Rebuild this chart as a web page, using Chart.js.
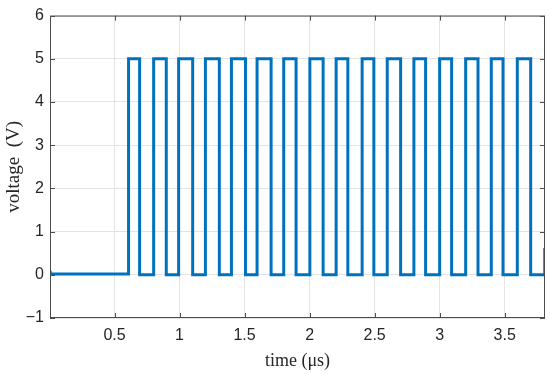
<!DOCTYPE html>
<html>
<head>
<meta charset="utf-8">
<script src="https://cdn.jsdelivr.net/npm/chart.js@4"></script>
<style>
  html, body { margin: 0; padding: 0; background: #fff; }
  #wrap { width: 550px; height: 374px; }
</style>
</head>
<body>
<div id="wrap"><canvas id="pulseChart"></canvas></div>
<script>
// switching instants (µs) and the level (V) the signal takes from each one
const edgeTimes = [0, 0.006, 0.608, 0.693, 0.801, 0.898, 0.993, 1.101, 1.199, 1.306,
    1.399, 1.507, 1.596, 1.704, 1.801, 1.896, 2.002, 2.104, 2.204, 2.294,
    2.404, 2.494, 2.597, 2.700, 2.802, 2.892, 3.000, 3.092, 3.200, 3.295,
    3.397, 3.487, 3.597, 3.700, 3.808];
const edgeLevels = [0.06, 0.02, 5, 0, 5, 0, 5, 0, 5, 0,
    5, 0, 5, 0, 5, 0, 5, 0, 5, 0,
    5, 0, 5, 0, 5, 0, 5, 0, 5, 0,
    5, 0, 5, 0, 0.62];

const xTicks = [0.5, 1, 1.5, 2, 2.5, 3, 3.5];
const yTicks = [-1, 0, 1, 2, 3, 4, 5, 6];

const axisColor = "#4d4d4d";

// matlab-style box: frame on all four sides, ticks pointing inwards
const boxPlugin = {
    id: "box",
    afterDraw(chart) {
        const { ctx, chartArea: a, scales } = chart;
        ctx.save();
        ctx.strokeStyle = axisColor;
        ctx.lineWidth = 1;
        ctx.strokeRect(a.left + 0.5, a.top + 0.5, a.width - 1, a.height - 1);
        ctx.beginPath();
        scales.x.ticks.forEach((t) => {
            const px = Math.round(scales.x.getPixelForValue(t.value)) + 0.5;
            ctx.moveTo(px, a.bottom);
            ctx.lineTo(px, a.bottom - 5);
            ctx.moveTo(px, a.top);
            ctx.lineTo(px, a.top + 5);
        });
        scales.y.ticks.forEach((t) => {
            const py = Math.round(scales.y.getPixelForValue(t.value)) + 0.5;
            ctx.moveTo(a.left, py);
            ctx.lineTo(a.left + 5, py);
            ctx.moveTo(a.right, py);
            ctx.lineTo(a.right - 5, py);
        });
        ctx.stroke();
        ctx.restore();
    },
};

const tickFont = { family: "'Liberation Sans', Arial, sans-serif", size: 16 };
const titleFont = { family: "'Liberation Serif', 'Times New Roman', serif", size: 18 };

new Chart(document.getElementById("pulseChart"), {
    type: "line",
    data: {
        datasets: [
            {
                data: edgeTimes.map((t, i) => ({ x: t, y: edgeLevels[i] })),
                borderColor: "#0072BD",
                borderWidth: 3,
                stepped: "before",
                pointRadius: 0,
                fill: false,
            },
        ],
    },
    options: {
        responsive: true,
        maintainAspectRatio: false,
        animation: false,
        layout: { padding: { top: 10, right: 5, left: 0, bottom: 0 } },
        plugins: { legend: { display: false }, tooltip: { enabled: false } },
        scales: {
            x: {
                type: "linear",
                min: 0.004,
                max: 3.81,
                afterBuildTicks: (s) => {
                    s.ticks = xTicks.map((v) => ({ value: v }));
                },
                afterFit: (s) => {
                    s.height = 56;
                },
                grid: { color: "#e3e3e3", drawTicks: false },
                border: { display: false },
                ticks: {
                    font: tickFont,
                    color: "#262626",
                    padding: 8,
                    maxRotation: 0,
                    callback: (v) => String(v),
                },
                title: {
                    display: true,
                    text: "time (μs)",
                    font: titleFont,
                    color: "#262626",
                    padding: { top: 0, bottom: 2 },
                },
            },
            y: {
                min: -1,
                max: 6,
                afterBuildTicks: (s) => {
                    s.ticks = yTicks.map((v) => ({ value: v }));
                },
                afterFit: (s) => {
                    s.width = 50;
                },
                grid: { color: "#e3e3e3", drawTicks: false },
                border: { display: false },
                ticks: {
                    font: tickFont,
                    color: "#262626",
                    padding: 6,
                    callback: (v) => String(v).replace("-", "\u2212"),
                },
                title: {
                    display: true,
                    text: "voltage  (V)",
                    font: { family: titleFont.family, size: 19 },
                    color: "#262626",
                    padding: { top: 3, bottom: 0 },
                },
            },
        },
    },
    plugins: [boxPlugin],
});
</script>
</body>
</html>
